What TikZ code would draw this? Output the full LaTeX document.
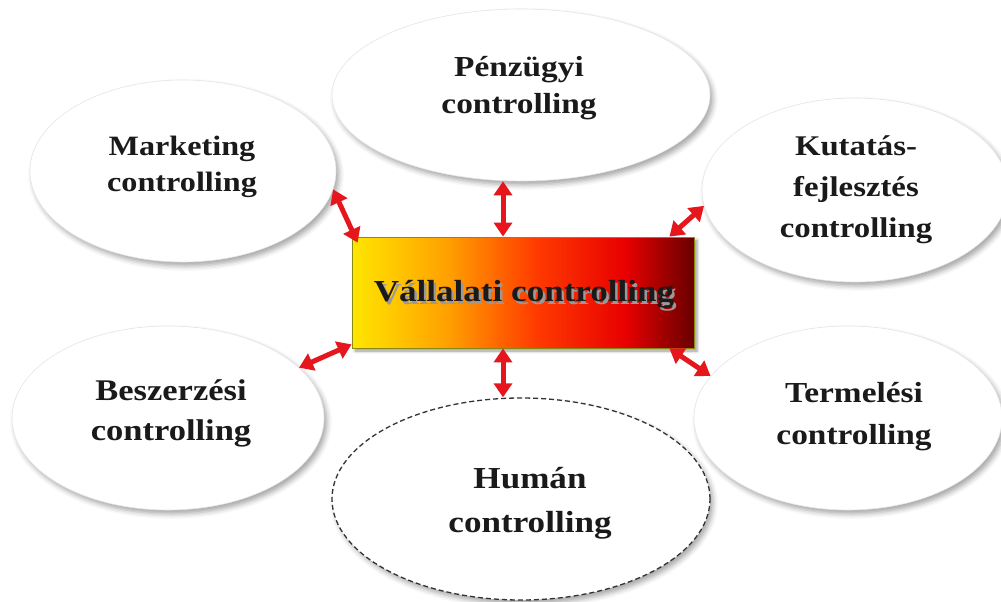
\documentclass[tikz,border=0pt]{standalone}
\usepackage{fontspec}
\newfontfamily\lblfont[FakeStretch=1.15]{Liberation Serif Bold}
\usetikzlibrary{shapes.geometric,shadows.blur,arrows.meta,calc}

\definecolor{txt}{HTML}{1A1A1A}
\definecolor{arrred}{HTML}{E5161C}
\definecolor{rectedge}{HTML}{8A8A10}
\definecolor{vcA}{HTML}{FFE600}
\definecolor{vcB}{HTML}{FFA000}
\definecolor{vcC}{HTML}{FF3A00}
\definecolor{vcD}{HTML}{E80000}
\definecolor{vcE}{HTML}{680000}

% yellow -> orange -> red -> dark red, left to right
\pgfdeclarehorizontalshading{vcshade}{100bp}{color(0bp)=(vcA); color(25bp)=(vcA);
  color(39bp)=(vcB); color(52bp)=(vcC); color(65bp)=(vcD); color(75bp)=(vcE); color(100bp)=(vcE)}

% text with a soft grey copy set slightly below and to the right
\newcommand{\shadowed}[1]{\makebox[0pt][l]{\raisebox{-2.5pt}{\hspace{2.5pt}\textcolor{black!40}{#1}}}#1}

\tikzset{
  unit/.style={ellipse, fill=white, draw=black!10, line width=0.6pt, inner sep=0pt,
    blur shadow={shadow xshift=3pt, shadow yshift=-4pt, shadow blur radius=5pt, shadow opacity=35}},
  hubbox/.style={rectangle, inner sep=0pt, shading=vcshade, draw=rectedge, line width=0.8pt,
    minimum width=342pt, minimum height=111pt,
    blur shadow={shadow xshift=3pt, shadow yshift=-3pt, shadow blur radius=3pt, shadow opacity=40}},
  lbl/.style={inner sep=0pt, align=center, text=txt},
  dbl/.style={draw=arrred, line width=5pt,
    {Triangle[length=14pt,width=18pt]}-{Triangle[length=14pt,width=18pt]}},
}

\begin{document}
\begin{tikzpicture}[x=1pt, y=-1pt]
\useasboundingbox (0,0) rectangle (1001,602);

% surrounding areas
\node[unit, minimum width=306pt, minimum height=182pt] (mk) at (183,171) {};
\node[unit, minimum width=378pt, minimum height=172pt] (pz) at (521,95) {};
\node[unit, minimum width=306pt, minimum height=184pt] (kf) at (855,190) {};
\node[unit, minimum width=312pt, minimum height=184pt] (bz) at (168,418) {};
\node[unit, minimum width=308pt, minimum height=184pt] (tr) at (848,418) {};
\node[unit, minimum width=378pt, minimum height=202pt, draw=black!80, line width=1.3pt,
      dash pattern=on 5pt off 3pt] (hu) at (521,499) {};

\node[lbl, font={\lblfont\fontsize{28}{36}\selectfont}] (mkt) at (182,167) {Marketing\\controlling};
\node[lbl, font={\lblfont\fontsize{29}{37}\selectfont}] (pzt) at (519,88) {Pénzügyi\\controlling};
\node[lbl, font={\lblfont\fontsize{28.5}{41}\selectfont}] (kft) at (856,190) {Kutatás-\\fejlesztés\\controlling};
\node[lbl, font={\lblfont\fontsize{30}{40}\selectfont}] (bzt) at (171,413) {Beszerzési\\controlling};
\node[lbl, font={\lblfont\fontsize{29}{42}\selectfont}] (trt) at (854,417) {Termelési\\controlling};
\node[lbl, font={\lblfont\fontsize{30.5}{44}\selectfont}] (hut) at (530,503) {Humán\\controlling};

% central box
\node[hubbox] (vc) at (523,292.5) {};
\node[lbl, font={\lblfont\fontsize{30.5}{36}\selectfont}] (vct) at (524,296) {\shadowed{Vállalati controlling}};

% links between the centre and each area
\draw[dbl] ([shift={(6pt,-6pt)}]vc.north west) -- (mk.-7);
\draw[dbl] ([xshift=-20pt]vc.north) -- ([xshift=-20pt]vc.north |- pz.south);
\draw[dbl] ([xshift=-25pt]vc.north east) -- (kf.186);
\draw[dbl] ([yshift=4pt]vc.south west) -- (bz.21);
\draw[dbl] ([xshift=-20pt]vc.south) -- ([xshift=-20pt]vc.south |- hu.north);
\draw[dbl] ([xshift=-25pt]vc.south east) -- (tr.163);
\end{tikzpicture}
\end{document}
